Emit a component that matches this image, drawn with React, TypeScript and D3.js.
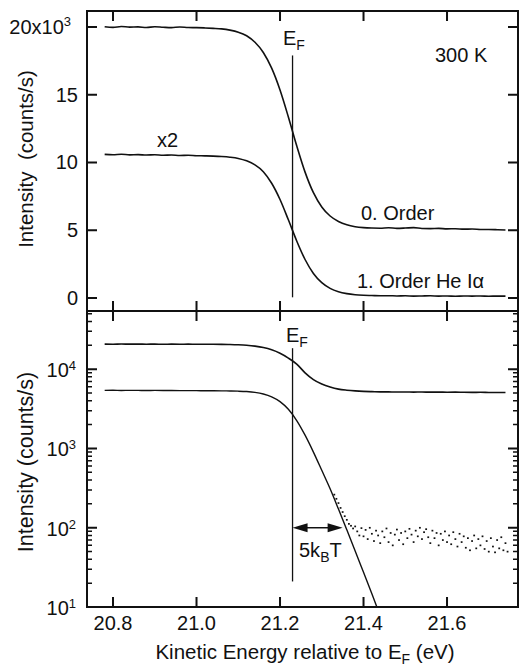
import React, { useEffect, useRef } from 'react';
import * as d3 from 'd3';

// kinetic energy grid (eV) shared by the smooth curves
const energy = [
  20.78, 20.80, 20.82, 20.84, 20.86, 20.88, 20.90, 20.92, 20.94, 20.96,
  20.98, 21.00, 21.02, 21.04, 21.06, 21.08, 21.10, 21.12, 21.14, 21.16,
  21.18, 21.20, 21.22, 21.24, 21.26, 21.28, 21.30, 21.32, 21.34, 21.36,
  21.38, 21.40, 21.42, 21.44, 21.46, 21.48, 21.50, 21.52, 21.54, 21.56,
  21.58, 21.60, 21.62, 21.64, 21.66, 21.68, 21.70, 21.72, 21.74,
];

// top panel, 10^3 counts/s
const order0 = [
  20.02, 19.97, 20.04, 19.99, 20.01, 19.96, 20.02, 19.98, 19.95, 20.00,
  19.96, 19.95, 19.93, 19.90, 19.86, 19.77, 19.62, 19.35, 18.87, 18.12,
  16.96, 15.35, 13.36, 11.23, 9.29, 7.77, 6.72, 6.05, 5.65, 5.40,
  5.26, 5.19, 5.16, 5.15, 5.18, 5.14, 5.16, 5.19, 5.13, 5.12,
  5.14, 5.10, 5.11, 5.08, 5.09, 5.06, 5.05, 5.04, 5.02,
];
const order1x2 = [
  10.60, 10.57, 10.61, 10.56, 10.58, 10.55, 10.57, 10.53, 10.55, 10.52,
  10.53, 10.50, 10.49, 10.47, 10.44, 10.39, 10.30, 10.12, 9.82, 9.32,
  8.47, 7.27, 5.77, 4.21, 2.84, 1.81, 1.13, 0.71, 0.46, 0.32,
  0.24, 0.20, 0.18, 0.16, 0.17, 0.15, 0.16, 0.14, 0.15, 0.16,
  0.14, 0.15, 0.13, 0.15, 0.14, 0.15, 0.13, 0.14, 0.14,
];

// bottom panel (log), counts/s
const order0Log = [
  20700, 20650, 20750, 20680, 20720, 20660, 20700, 20640, 20690, 20660,
  20680, 20660, 20640, 20610, 20560, 20470, 20300, 20020, 19530, 18750,
  17550, 15880, 13810, 11600, 9000, 7400, 6500, 5950, 5600, 5430,
  5320, 5250, 5210, 5180, 5170, 5150, 5160, 5140, 5150, 5130,
  5140, 5120, 5130, 5110, 5100, 5110, 5090, 5080, 5070,
];

const fitEnergy = [
  20.78, 20.80, 20.82, 20.84, 20.86, 20.88, 20.90, 20.92, 20.94, 20.96,
  20.98, 21.00, 21.02, 21.04, 21.06, 21.08, 21.10, 21.12, 21.14, 21.16,
  21.18, 21.20, 21.22, 21.24, 21.26, 21.28, 21.30, 21.32, 21.34, 21.36,
  21.38, 21.40, 21.42, 21.432,
];
const order1Fit = [
  5400, 5420, 5390, 5410, 5400, 5380, 5400, 5390, 5380, 5370,
  5370, 5360, 5350, 5340, 5330, 5310, 5280, 5220, 5100, 4870,
  4480, 3900, 3120, 2250, 1470, 900, 530, 310, 172, 94,
  51, 27.4, 14.7, 10,
];

// measured 1. order points above the fit (noise floor)
const tailEnergy = [
  21.330, 21.335, 21.340, 21.345, 21.350, 21.355, 21.360, 21.365, 21.370, 21.375,
  21.380, 21.385, 21.390, 21.395, 21.400, 21.405, 21.410, 21.415, 21.420, 21.425,
  21.430, 21.435, 21.440, 21.445, 21.450, 21.455, 21.460, 21.465, 21.470, 21.475,
  21.480, 21.485, 21.490, 21.495, 21.500, 21.505, 21.510, 21.515, 21.520, 21.525,
  21.530, 21.535, 21.540, 21.545, 21.550, 21.555, 21.560, 21.565, 21.570, 21.575,
  21.580, 21.585, 21.590, 21.595, 21.600, 21.605, 21.610, 21.615, 21.620, 21.625,
  21.630, 21.635, 21.640, 21.645, 21.650, 21.655, 21.660, 21.665, 21.670, 21.675,
  21.680, 21.685, 21.690, 21.695, 21.700, 21.705, 21.710, 21.715, 21.720, 21.725,
  21.730, 21.735, 21.740, 21.745,
];
const tailCounts = [
  262, 232, 205, 178, 158, 140, 126, 112, 106, 98,
  104, 90, 80, 99, 78, 94, 72, 100, 84, 68,
  92, 80, 64, 90, 76, 98, 66, 86, 60, 82,
  95, 70, 86, 62, 90, 74, 97, 82, 66, 92,
  78, 100, 72, 88, 96, 76, 64, 92, 74, 86,
  60, 84, 70, 90, 66, 80, 62, 88, 72, 58,
  84, 66, 78, 56, 74, 52, 68, 80, 55, 72,
  60, 78, 54, 68, 50, 74, 58, 49, 70, 55,
  76, 52, 64, 50,
];

const xTicks = [20.8, 21.0, 21.2, 21.4, 21.6];
const xTickLabels = ['20.8', '21.0', '21.2', '21.4', '21.6'];
const linTicks = [0, 5, 10, 15, 20];
const logMajor = [10, 100, 1000, 10000];
const fermiEnergy = 21.23;
const fiveKT = 0.12;

const W = 519, H = 666;
const left = 87, right = 518, top = 11, mid = 311, bottom = 607;
const FONT = '"Liberation Sans", Arial, Helvetica, sans-serif';
const INK = '#111';

export default function App() {
  const ref = useRef<SVGSVGElement>(null);

  useEffect(() => {
    const svg = d3.select(ref.current);
    svg.selectAll('*').remove();

    const x = d3.scaleLinear().domain([20.7377, 21.770]).range([left, right]);
    const yLin = d3.scaleLinear().domain([-0.96, 21.18]).range([mid, top]);
    const yLog = d3.scaleLog().domain([10, Math.pow(10, 4.734)]).range([bottom, mid]);

    const g = svg.append('g').attr('font-family', FONT).attr('fill', INK);

    // frames
    g.append('rect').attr('x', left).attr('y', top).attr('width', right - left).attr('height', mid - top)
      .attr('fill', 'none').attr('stroke', INK).attr('stroke-width', 2);
    g.append('rect').attr('x', left).attr('y', mid).attr('width', right - left).attr('height', bottom - mid)
      .attr('fill', 'none').attr('stroke', INK).attr('stroke-width', 2);

    // ticks, all pointing inwards
    const major = d3.path();
    const minor = d3.path();
    xTicks.forEach(v => {
      const px = x(v);
      [[top, 10], [mid, -10], [mid, 10], [bottom, -10]].forEach(([y0, len]) => {
        major.moveTo(px, y0);
        major.lineTo(px, y0 + len);
      });
    });
    const yTick = (p: d3.Path, py: number, len: number) => {
      p.moveTo(left, py); p.lineTo(left + len, py);
      p.moveTo(right, py); p.lineTo(right - len, py);
    };
    linTicks.forEach(v => yTick(major, yLin(v), 10));
    logMajor.forEach(v => yTick(major, yLog(v), 10));
    yLog.ticks().filter(v => !logMajor.includes(v)).forEach(v => yTick(minor, yLog(v), 5));
    g.append('path').attr('d', major.toString()).attr('fill', 'none').attr('stroke', INK).attr('stroke-width', 2);
    g.append('path').attr('d', minor.toString()).attr('fill', 'none').attr('stroke', INK).attr('stroke-width', 1.5);

    // tick labels
    g.append('g').selectAll('text').data(xTicks).enter().append('text')
      .attr('x', d => x(d)).attr('y', 630).attr('text-anchor', 'middle')
      .attr('font-size', 20).text((d, i) => xTickLabels[i]);

    g.append('g').selectAll('text').data(linTicks.slice(0, 4)).enter().append('text')
      .attr('x', 78).attr('y', d => yLin(d) + 7).attr('text-anchor', 'end')
      .attr('font-size', 20).text(d => String(d));
    const t20 = g.append('text').attr('x', 71).attr('y', yLin(20) + 7).attr('text-anchor', 'end').attr('font-size', 20);
    t20.append('tspan').text('20x10');
    t20.append('tspan').attr('dy', -8).attr('font-size', 13).text('3');

    logMajor.forEach(v => {
      const t = g.append('text').attr('x', 76).attr('y', yLog(v) + 8).attr('text-anchor', 'end').attr('font-size', 20);
      t.append('tspan').text('10');
      t.append('tspan').attr('dy', -7).attr('font-size', 13).text(String(Math.round(Math.log10(v))));
    });

    // axis titles
    g.append('text').attr('transform', `translate(33,159) rotate(-90)`).attr('text-anchor', 'middle')
      .attr('font-size', 20.5).style('white-space', 'pre').text('Intensity  (counts/s)');
    g.append('text').attr('transform', `translate(33,462) rotate(-90)`).attr('text-anchor', 'middle')
      .attr('font-size', 21.5).text('Intensity (counts/s)');
    const xt = g.append('text').attr('x', 305).attr('y', 659).attr('text-anchor', 'middle').attr('font-size', 20.5);
    xt.append('tspan').text('Kinetic Energy relative to E');
    xt.append('tspan').attr('dy', 5).attr('font-size', 14).text('F');
    xt.append('tspan').attr('dy', -5).text(' (eV)');

    // curves
    const lin = d3.line<[number, number]>().x(d => x(d[0])).y(d => yLin(d[1])).curve(d3.curveMonotoneX);
    const lg = d3.line<[number, number]>().x(d => x(d[0])).y(d => yLog(d[1])).curve(d3.curveMonotoneX);
    const curve = (path: string | null, w = 1.6) =>
      g.append('path').attr('d', path).attr('fill', 'none').attr('stroke', INK).attr('stroke-width', w);

    curve(lin(energy.map((e, i) => [e, order0[i]] as [number, number])));
    curve(lin(energy.map((e, i) => [e, order1x2[i]] as [number, number])));
    curve(lg(energy.map((e, i) => [e, order0Log[i]] as [number, number])));
    curve(lg(fitEnergy.map((e, i) => [e, order1Fit[i]] as [number, number])), 1.4);

    g.append('g').selectAll('rect').data(tailEnergy).enter().append('rect')
      .attr('x', d => x(d) - 0.9).attr('y', (d, i) => yLog(tailCounts[i]) - 0.8)
      .attr('width', 1.8).attr('height', 1.7).attr('fill', INK);

    // Fermi level markers
    g.append('line').attr('x1', x(fermiEnergy)).attr('x2', x(fermiEnergy))
      .attr('y1', yLin(17.9)).attr('y2', yLin(0.05)).attr('stroke', INK).attr('stroke-width', 1.3);
    g.append('line').attr('x1', x(fermiEnergy)).attr('x2', x(fermiEnergy))
      .attr('y1', yLog(18400)).attr('y2', yLog(21)).attr('stroke', INK).attr('stroke-width', 1.3);

    const sub = (tx: number, ty: number, a: string, s: string, b = '') => {
      const t = g.append('text').attr('x', tx).attr('y', ty).attr('font-size', 20);
      t.append('tspan').text(a);
      t.append('tspan').attr('dy', 5).attr('font-size', 14).text(s);
      if (b) t.append('tspan').attr('dy', -5).text(b);
    };
    sub(283, 45, 'E', 'F');
    sub(286, 342, 'E', 'F');
    sub(299, 557, '5k', 'B', 'T');

    g.append('text').attr('x', 435).attr('y', 62).attr('font-size', 20).text('300 K');
    g.append('text').attr('x', 157).attr('y', 147).attr('font-size', 20).text('x2');
    g.append('text').attr('x', 361).attr('y', 220).attr('font-size', 20).text('0. Order');
    g.append('text').attr('x', 357).attr('y', 288).attr('font-size', 20).text('1. Order He I\u03b1');

    // 5 kT arrow
    const ay = yLog(100);
    const x0 = x(fermiEnergy), x1 = x(fermiEnergy + fiveKT);
    g.append('line').attr('x1', x0 + 10).attr('x2', x1 - 10).attr('y1', ay).attr('y2', ay)
      .attr('stroke', INK).attr('stroke-width', 1.5);
    g.append('path').attr('d', `M${x0},${ay} L${x0 + 15},${ay - 4.5} L${x0 + 15},${ay + 4.5} Z`).attr('fill', INK);
    g.append('path').attr('d', `M${x1},${ay} L${x1 - 15},${ay - 4.5} L${x1 - 15},${ay + 4.5} Z`).attr('fill', INK);
  }, []);

  return (
    <div>
      <svg ref={ref} width={W} height={H} style={{ position: 'absolute', left: 0, top: 0, background: '#fff' }} />
    </div>
  );
}
